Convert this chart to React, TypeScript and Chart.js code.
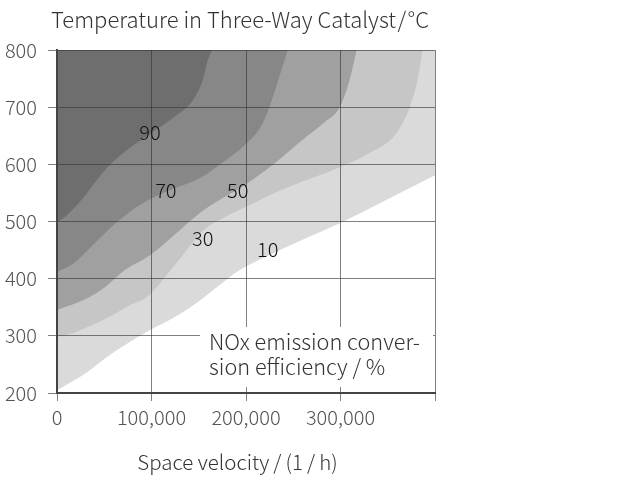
import React, { useEffect, useRef } from "react";
import { Chart, registerables } from "chart.js";

Chart.register(...registerables);

// Space velocity values are in thousands of 1/h
const X_UNIT = 1000;

// Contour boundaries (NOx conversion efficiency, %)
const b90X = [0, 10.6, 27.5, 52.9, 74, 98.3, 122.6, 143.8, 154.3, 158.6, 163.8];
const b90Y = [499, 511, 541, 594, 625, 653, 681, 712, 748, 777, 800];

const b70X = [0, 16.9, 38.1, 63.4, 87.7, 115.2, 151.2, 174.4, 198.7, 216.7, 227.3, 235.7, 244.2];
const b70Y = [412, 426, 459, 499, 529, 552, 576, 602, 634, 669, 712, 756, 800];

const b50X = [0, 28.5, 50.7, 71.9, 98.3, 123.7, 151.2, 172.3, 198.7, 230.4, 260, 283.3, 299.2, 309.7, 317.1];
const b50Y = [345, 363, 385, 415, 441, 476, 515, 538, 564, 602, 643, 674, 700, 748, 800];

const b30X = [0, 16.9, 52.9, 77.2, 95.1, 124.7, 155.4, 172.3, 204, 243.1, 299.2, 330.9, 359.4, 373.2, 381.6, 386.9];
const b30Y = [298, 305, 331, 354, 368, 424, 485, 503, 529, 559, 595, 620, 655, 700, 748, 800];

const b10X = [0, 16.9, 34.9, 52.9, 71.9, 98.3, 124.7, 151.2, 172.3, 193.4, 223, 256.9, 299.2, 348.8, 400];
const b10Y = [205, 221, 240, 263, 284, 310, 333, 362, 389, 415, 440, 466, 497, 538, 581];

const levels = ["10", "30", "50", "70", "90"];
const levelColors = ["#dadada", "#c6c6c6", "#a0a0a0", "#878787", "#6e6e6e"];

// Contour labels
const labelText = ["90", "70", "50", "30", "10"];
const labelX = [98.3, 115.2, 191.3, 154.3, 223];
const labelY = [655, 555, 555, 471, 452];

const xTicks = [0, 100000, 200000, 300000, 400000];
const yTicks = [200, 300, 400, 500, 600, 700, 800];

const titleText = "Temperature in Three-Way Catalyst\u200A/\u200A°C";
const xTitleText = "Space velocity\u2009/\u2009(1\u2009/\u2009h)";
const legendLines = ["NOx emission conver-", "sion efficiency / %"];

const FONT = '"Noto Sans CJK JP", "Noto Sans", sans-serif';

function pts(xs: number[], ys: number[]) {
  return xs.map((v, i) => ({ x: v * X_UNIT, y: ys[i] }));
}

const overlay = {
  id: "overlay",
  afterDraw(chart: any) {
    const { ctx, chartArea } = chart;
    const sx = chart.scales.x;
    const sy = chart.scales.y;
    ctx.save();
    // contour labels
    ctx.font = `300 20px ${FONT}`;
    ctx.fillStyle = "#111";
    ctx.textAlign = "center";
    ctx.textBaseline = "middle";
    labelText.forEach((t, i) => {
      ctx.fillText(t, sx.getPixelForValue(labelX[i] * X_UNIT), sy.getPixelForValue(labelY[i]));
    });
    // legend box
    const bl = chartArea.left + 143;
    const bt = chartArea.top + 277;
    ctx.fillStyle = "#ffffff";
    ctx.fillRect(bl, bt, chartArea.right - 2 - bl, chartArea.bottom - 6 - bt);
    ctx.fillStyle = "#333";
    ctx.textAlign = "left";
    ctx.font = `300 21.7px ${FONT}`;
    ctx.fillText(legendLines[0], bl + 9, bt + 15);
    ctx.fillText(legendLines[1], bl + 9, bt + 40);
    // title
    ctx.textAlign = "center";
    ctx.font = `300 22px ${FONT}`;
    ctx.fillText(titleText, (chartArea.left + chartArea.right) / 2 - 6, 20);
    // x-axis title
    ctx.font = `300 20.5px ${FONT}`;
    ctx.fillText(xTitleText, (chartArea.left + chartArea.right) / 2 - 8.5, 462);
    ctx.restore();
  },
};

export default function App() {
  const ref = useRef<HTMLCanvasElement | null>(null);
  useEffect(() => {
    if (!ref.current) return;
    const boundaries = [
      pts(b10X, b10Y),
      pts(b30X, b30Y),
      pts(b50X, b50Y),
      pts(b70X, b70Y),
      pts(b90X, b90Y),
    ];
    const gridColor = "rgba(50,50,50,0.62)";
    const chart = new Chart(ref.current, {
      type: "scatter",
      data: {
        datasets: boundaries.map((d, i) => ({
          label: levels[i],
          data: d,
          showLine: true,
          pointRadius: 0,
          borderWidth: 0,
          borderColor: levelColors[i],
          backgroundColor: levelColors[i],
          fill: "end",
          cubicInterpolationMode: "monotone",
          order: 5 - i,
        })),
      },
      options: {
        animation: false,
        responsive: false,
        layout: { padding: { left: 0, top: 50, right: 205, bottom: 0 } },
        plugins: { legend: { display: false }, tooltip: { enabled: false } },
        scales: {
          x: {
            type: "linear",
            min: 0,
            max: 400000,
            afterBuildTicks: (s: any) => {
              s.ticks = xTicks.map((v) => ({ value: v }));
            },
            afterFit: (s: any) => {
              s.height = 87;
            },
            ticks: {
              color: "#555",
              font: { family: FONT, size: 20, weight: "300" },
              padding: 4,
              z: 1,
              callback: (v: any) => (v === 400000 ? "" : Number(v).toLocaleString("en-US")),
            },
            grid: { color: gridColor, lineWidth: 1, tickLength: 8, z: 1 },
            border: { color: "#444", width: 2, z: 2 },
          },
          y: {
            type: "linear",
            min: 200,
            max: 800,
            afterBuildTicks: (s: any) => {
              s.ticks = yTicks.map((v) => ({ value: v }));
            },
            afterFit: (s: any) => {
              s.width = 57;
            },
            ticks: {
              color: "#555",
              font: { family: FONT, size: 20, weight: "300" },
              padding: 11,
              z: 1,
            },
            grid: { color: gridColor, lineWidth: 1, tickLength: 9, z: 1 },
            border: { color: "#444", width: 2, z: 2 },
          },
        },
      },
      plugins: [overlay],
    });
    return () => chart.destroy();
  }, []);
  return (
    <div style={{ position: "absolute", left: 0, top: 0, width: 640, height: 480, background: "#fff" }}>
      <canvas ref={ref} width={640} height={480} />
    </div>
  );
}
